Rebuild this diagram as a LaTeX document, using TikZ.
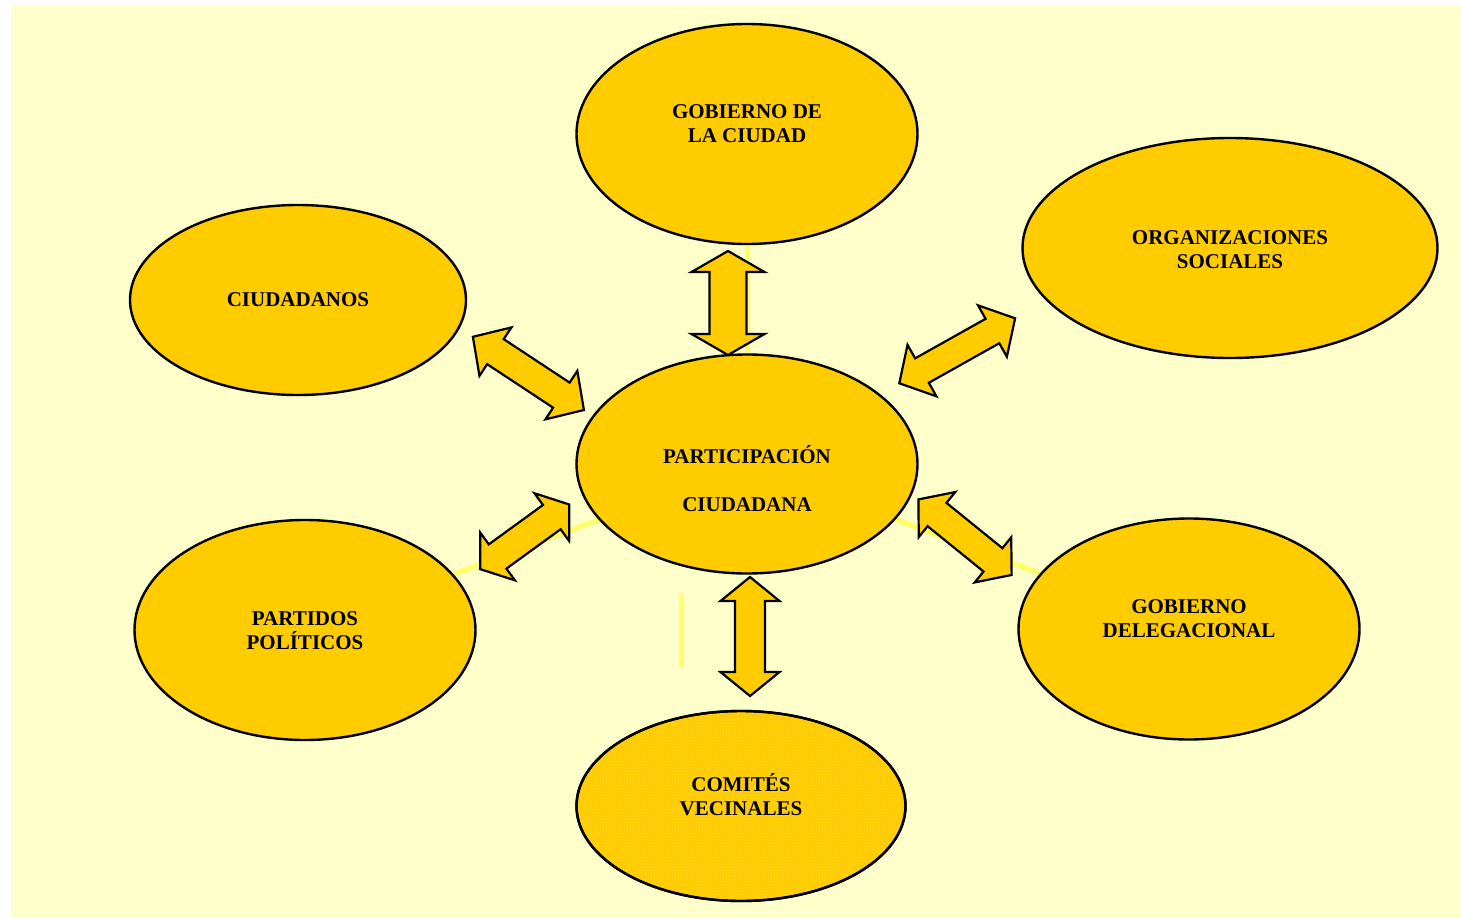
\documentclass[tikz,border=0pt]{standalone}
\usepackage{fontspec}
\setmainfont{Liberation Serif}
\usetikzlibrary{shapes.geometric,backgrounds,patterns}
\definecolor{bgyel}{RGB}{255,255,204}
\definecolor{bubfill}{RGB}{255,204,0}
\definecolor{faint}{RGB}{255,255,102}
\definecolor{dotcol}{RGB}{255,222,110}
\tikzset{
  bubble/.style={ellipse,draw=black,line width=2.4pt,fill=bubfill,inner sep=0pt,outer sep=0pt},
  txt/.style={align=center,font=\fontsize{21}{24}\selectfont\bfseries,inner sep=0pt},
  blockarrow/.style={draw=black,line width=2.2pt,fill=bubfill,line join=miter},
  faintline/.style={draw=faint,line width=5pt}
}
% #1 name, #2 x, #3 y, #4 canvas angle, #5 half length, #6 half length minus head, #7 head half width, #8 shaft half width
\newcommand{\dblarr}[8]{%
  \begin{scope}[shift={(#2,#3)},rotate=#4]
    \draw[blockarrow] (-#5,0) -- (-#6,#7) -- (-#6,#8) -- (#6,#8) -- (#6,#7) -- (#5,0)
      -- (#6,-#7) -- (#6,-#8) -- (-#6,-#8) -- (-#6,-#7) -- cycle;
    \coordinate (#1) at (0,0);
  \end{scope}}
\begin{document}
\begin{tikzpicture}[x=1pt,y=-1pt]
\useasboundingbox (0,0) rectangle (1461,918);
% ellipses
\node[bubble,minimum width=341pt,minimum height=220pt] (gob) at (747,134) {};
\node[bubble,minimum width=415pt,minimum height=220pt] (org) at (1230,248) {};
\node[bubble,minimum width=336pt,minimum height=190pt] (ciu) at (298,300) {};
\node[bubble,minimum width=341pt,minimum height=219pt] (par) at (747,464) {};
\node[bubble,minimum width=341pt,minimum height=220pt] (pol) at (305,630) {};
\node[bubble,minimum width=341pt,minimum height=221pt] (del) at (1189,629) {};
\node[bubble,minimum width=329pt,minimum height=190pt] (com) at (741,806) {};
\fill[pattern=dots,pattern color=dotcol] (com.center) ellipse [x radius=162pt,y radius=93pt];
\draw[line width=2.4pt] (com.center) ellipse [x radius=164.5pt,y radius=95pt];
% texts
\node[txt] (tgob) at (747,124) {GOBIERNO DE\\LA CIUDAD};
\node[txt] (torg) at (1230,250) {ORGANIZACIONES\\SOCIALES};
\node[txt] (tciu) at (298,300) {CIUDADANOS};
\node[txt] (tpar) at (747,478.5) {PARTICIPACIÓN\\[24pt]CIUDADANA};
\node[txt] (tpol) at (305,631) {PARTIDOS\\POLÍTICOS};
\node[txt] (tdel) at (1189,619) {GOBIERNO\\DELEGACIONAL};
\node[txt] (tcom) at (741,795) {COMITÉS\\VECINALES};
% faint connectors behind
\coordinate (v1) at (681,593);
\coordinate (v2) at (681,667);
\begin{pgfonlayer}{background}
  \fill[bgyel] (11,5) rectangle (1461,918);
  \draw[faintline] (pol.center) -- (par.center);
  \draw[faintline] (par.center) -- (del.center);
  \draw[faintline] (gob.center) -- (par.center);
  \draw[faintline] (v1) -- (v2);
\end{pgfonlayer}
% block double arrows
\dblarr{a1}{728}{303}{90}{52}{31}{36.5}{18.5}
\dblarr{a2}{750}{636.5}{90}{59.5}{35.5}{29.5}{15}
\dblarr{a3}{528.4}{373.4}{-33.4}{66.5}{39.5}{29}{15}
\dblarr{a4}{524.7}{536.8}{36}{55}{33.5}{29.5}{15}
\dblarr{a5}{957.2}{350.8}{29.3}{66.4}{40.4}{29.5}{14}
\dblarr{a6}{965}{537.2}{-39}{60}{36}{29}{15}
\end{tikzpicture}
\end{document}
